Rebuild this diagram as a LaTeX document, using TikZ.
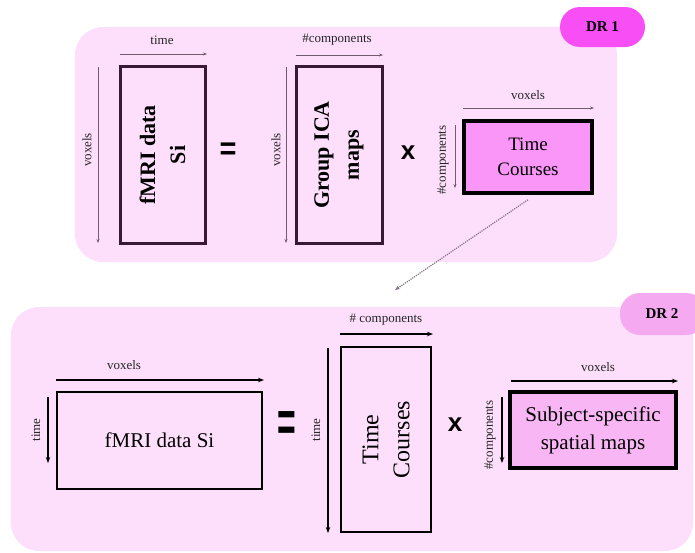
\documentclass[tikz,border=0pt]{standalone}
\usepackage{fontspec}
\setmainfont{Liberation Serif}
\setsansfont{Liberation Sans}
\usetikzlibrary{arrows.meta}
\definecolor{panelpink}{HTML}{FDDFFC}
\definecolor{drone}{HTML}{F84EF6}
\definecolor{drtwo}{HTML}{F5A9F1}
\definecolor{tcpink}{HTML}{F996F7}
\definecolor{subjpink}{HTML}{F8B6F5}
\definecolor{boxdark}{HTML}{3A1937}
\definecolor{arrowgray}{HTML}{6F5C6F}
\begin{document}
\begin{tikzpicture}[x=1pt,y=-1pt,
  panel/.style={fill=panelpink, rounded corners=28pt, inner sep=0pt},
  badge/.style={rounded corners=20pt, inner sep=0pt, font=\bfseries\fontsize{15}{15}\selectfont},
  darkbox/.style={draw=boxdark, line width=3pt, inner sep=0pt, align=center},
  blackbox/.style={draw=black, line width=2.4pt, inner sep=0pt, align=center},
  dimA/.style={draw=arrowgray, line width=0.8pt, -{Stealth[length=4pt,width=3pt]}},
  dimB/.style={draw=black, line width=1.1pt, -{Stealth[length=6pt,width=4.5pt]}},
  lab/.style={font=\fontsize{13}{13}\selectfont, inner sep=0pt, text=black!85},
  op/.style={font=\sffamily\bfseries\fontsize{26}{26}\selectfont, inner sep=0pt}
]
\useasboundingbox (0,0) rectangle (695,552);

% ---------- DR1 panel ----------
\node (p1) [panel, minimum width=542pt, minimum height=235pt] at (346,144.5) {};
\node (dr1) [badge, fill=drone, minimum width=85pt, minimum height=40pt] at (602.5,27) {DR 1};

\node (fA) [darkbox, rotate=90, minimum width=177pt, minimum height=85pt,
  font=\bfseries\fontsize{22}{30}\selectfont] at (162.5,155) {fMRI data\\Si};
\node (gA) [darkbox, rotate=90, minimum width=177pt, minimum height=86pt,
  font=\bfseries\fontsize{22}{30}\selectfont] at (339,155) {Group ICA\\maps};
\node (tA) [draw=black, line width=3.5pt, fill=tcpink, align=center, inner sep=0pt,
  minimum width=128pt, minimum height=72pt, font=\fontsize{19}{25}\selectfont] at (528,157) {Time\\Courses};

\node (eqA) [op, font=\sffamily\bfseries\fontsize{29}{29}\selectfont, yscale=1.1] at (228,151) {=};
\node (xA) [op] at (408,153) {x};

\coordinate (a1s) at (120,54);  \coordinate (a1e) at (207,54);
\draw[dimA] (a1s) -- (a1e);
\node (l1) [lab] at (162,40) {time};
\coordinate (a2s) at (98,67);   \coordinate (a2e) at (98,243);
\draw[dimA] (a2s) -- (a2e);
\node (l2) [lab, rotate=90] at (87,150) {voxels};
\coordinate (a3s) at (296,55);  \coordinate (a3e) at (383,55);
\draw[dimA] (a3s) -- (a3e);
\node (l3) [lab] at (337,40) {\#components};
\coordinate (a4s) at (286,67);  \coordinate (a4e) at (286,243);
\draw[dimA] (a4s) -- (a4e);
\node (l4) [lab, rotate=90] at (276,150) {voxels};
\coordinate (a5s) at (463,108); \coordinate (a5e) at (594,108);
\draw[dimA] (a5s) -- (a5e);
\node (l5) [lab] at (528,95) {voxels};
\coordinate (a6s) at (455,125); \coordinate (a6e) at (455,188);
\draw[dimA] (a6s) -- (a6e);
\node (l6) [lab, rotate=90] at (443,160) {\#components};

% ---------- DR2 panel ----------
\node (p2) [panel, minimum width=682pt, minimum height=244pt] at (352,429) {};
\node (dr2) [badge, fill=drtwo, minimum width=86pt, minimum height=42pt] at (663,314) {\hspace*{-2pt}DR 2};

% dotted link
\coordinate (dotend) at (395,290);
\draw[densely dotted, draw=arrowgray!85, line width=1.2pt, -{Stealth[length=5pt,width=4pt]}] ([yshift=-5pt]tA.south) -- (dotend);

\node (fB) [blackbox, minimum width=205pt, minimum height=97pt,
  font=\fontsize{21}{26}\selectfont] at (159.5,440.5) {fMRI data Si};
\node (tB) [blackbox, rotate=90, minimum width=185pt, minimum height=90pt,
  font=\fontsize{24}{31}\selectfont] at (386,439.5) {Time\\Courses};
\node (sB) [draw=black, line width=3.5pt, fill=subjpink, align=center, inner sep=0pt,
  minimum width=166pt, minimum height=76pt, font=\fontsize{21}{28}\selectfont] at (593,430) {Subject-specific\\spatial maps};

\node (eqB) [op, font=\sffamily\bfseries\fontsize{32}{32}\selectfont, yscale=1.8] at (287,427) {=};
\node (xB) [op] at (455,425) {x};

\coordinate (b1s) at (56,380);  \coordinate (b1e) at (264,380);
\draw[dimB] (b1s) -- (b1e);
\node (m1) [lab] at (124,365) {voxels};
\coordinate (b2s) at (48,397);  \coordinate (b2e) at (48,463);
\draw[dimB] (b2s) -- (b2e);
\node (m2) [lab, rotate=90] at (36,430) {time};
\coordinate (b3s) at (340,334); \coordinate (b3e) at (433,334);
\draw[dimB] (b3s) -- (b3e);
\node (m3) [lab] at (386,320) {\# components};
\coordinate (b4s) at (328,348); \coordinate (b4e) at (328,533);
\draw[dimB] (b4s) -- (b4e);
\node (m4) [lab, rotate=90] at (316,430) {time};
\coordinate (b5s) at (511,381); \coordinate (b5e) at (678,381);
\draw[dimB] (b5s) -- (b5e);
\node (m5) [lab] at (598,367) {voxels};
\coordinate (b6s) at (502,397); \coordinate (b6e) at (502,463);
\draw[dimB] (b6s) -- (b6e);
\node (m6) [lab, rotate=90] at (490,435) {\#components};
\end{tikzpicture}
\end{document}
